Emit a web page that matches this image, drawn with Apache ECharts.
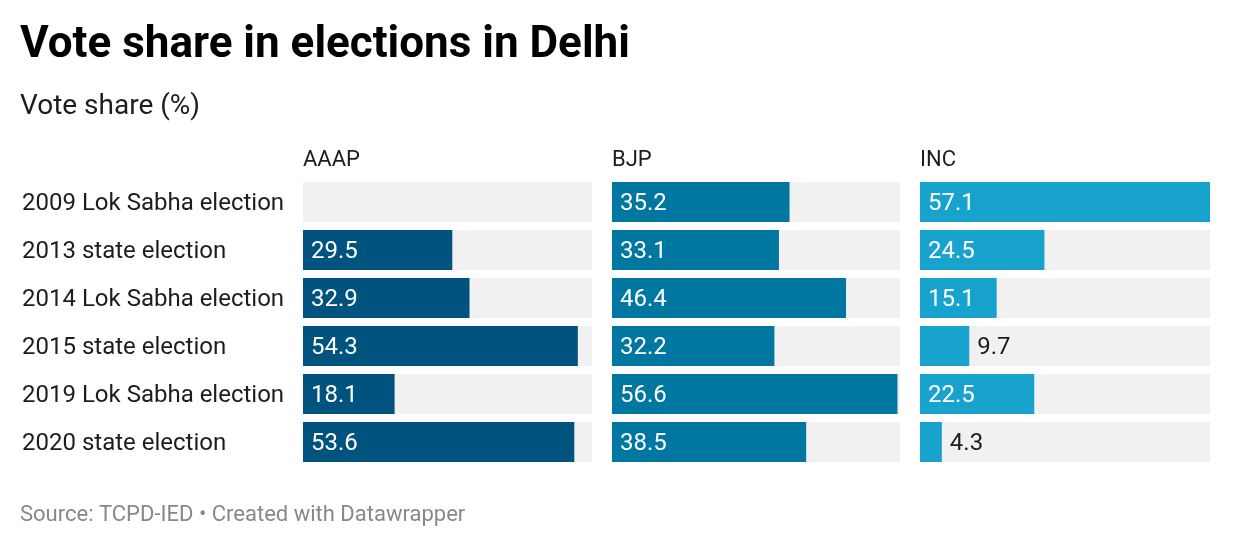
<!DOCTYPE html>
<html><head><meta charset="utf-8">
<script src="https://cdn.jsdelivr.net/npm/echarts@6/dist/echarts.min.js"></script>
<style>html,body{margin:0;padding:0;background:#fff}#c{width:1240px;height:548px}</style>
</head><body><div id="c"></div>
<script>
const categories = ["2009 Lok Sabha election","2013 state election","2014 Lok Sabha election","2015 state election","2019 Lok Sabha election","2020 state election"];
const parties = ["AAAP","BJP","INC"];
const aaap = [null, 29.5, 32.9, 54.3, 18.1, 53.6];
const bjp = [35.2, 33.1, 46.4, 32.2, 56.6, 38.5];
const inc = [57.1, 24.5, 15.1, 9.7, 22.5, 4.3];
const colors = ["#00537e", "#0077a0", "#18a2ce"];

const seriesValues = [aaap, bjp, inc];
const maxVal = Math.max(...aaap.filter(v=>v!=null), ...bjp, ...inc);
const FONT = "Roboto";
const grids = [
  {left: 303, width: 289},
  {left: 612, width: 288},
  {left: 920, width: 290}
].map(g => ({left: g.left, width: g.width, top: 178, height: 288}));

const xAxes = grids.map((g,i)=>({gridIndex:i, type:'value', min:0, max:maxVal, show:false}));
const yAxes = grids.map((g,i)=>({
  gridIndex:i, type:'category', data:categories, inverse:true,
  axisLine:{show:false}, axisTick:{show:false}, splitLine:{show:false},
  axisLabel: i===0 ? {show:true, align:'left', margin:281, fontFamily:FONT, fontSize:24, color:'#1d1d1d',
    formatter:(v)=>'{a|'+v+'}',
    rich:{a:{fontFamily:FONT, fontSize:24, color:'#1d1d1d', padding:[4,0,0,0]}}} : {show:false}
}));

const series = [];
seriesValues.forEach((vals,i)=>{
  series.push({
    type:'bar', xAxisIndex:i, yAxisIndex:i, silent:true,
    data: categories.map(()=>maxVal),
    itemStyle:{color:'#f1f1f1'}, barCategoryGap:'16.667%', barGap:'-100%',
    label:{show:false}, z:1
  });
  series.push({
    type:'bar', xAxisIndex:i, yAxisIndex:i,
    barCategoryGap:'16.667%', barGap:'-100%', z:2,
    itemStyle:{color:colors[i]},
    data: vals.map(v=>{
      if(v==null) return {value:null};
      const inside = v >= 12;
      return {value:v, label:{show:true, position: inside?'insideLeft':'right', distance:8,
        offset:[0,2],
        color: inside?'#ffffff':'#1d1d1d', fontFamily:FONT, fontSize:24,
        formatter: (p)=>p.value.toFixed(1)}};
    })
  });
});

const chart = echarts.init(document.getElementById('c'), null, {renderer:'canvas'});
chart.setOption({
  animation:false,
  title:[
    {text:'Vote share in elections in Delhi', left:20, top:24, padding:0, textStyle:{fontFamily:FONT, fontWeight:'bold', fontSize:44, color:'#000'}},
    {text:'Vote share (%)', left:20, top:93, padding:0, textStyle:{fontFamily:FONT, fontWeight:'normal', fontSize:28, color:'#1d1d1d'}},
    ...parties.map((p,i)=>({text:p, left:grids[i].left, top:149, padding:0, textStyle:{fontFamily:FONT, fontWeight:'normal', fontSize:22, color:'#1d1d1d'}})),
    {text:'Source: TCPD-IED • Created with Datawrapper', left:20, top:504, padding:0, textStyle:{fontFamily:FONT, fontWeight:'normal', fontSize:22, color:'#888888'}}
  ],
  grid:grids, xAxis:xAxes, yAxis:yAxes, series:series
});
</script></body></html>
